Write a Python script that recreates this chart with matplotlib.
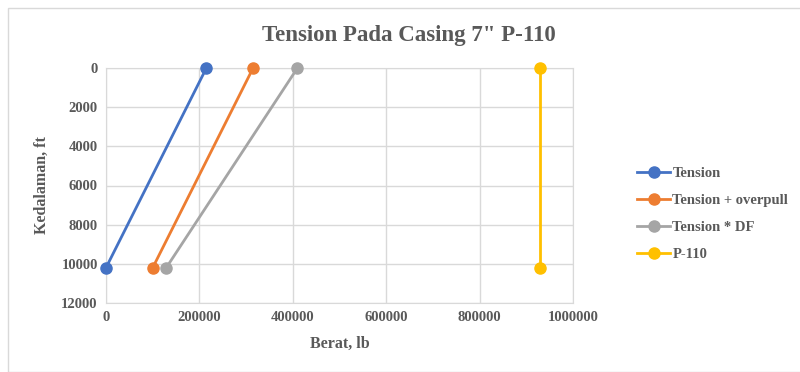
import matplotlib
matplotlib.use("Agg")
import matplotlib.pyplot as plt
from matplotlib.patches import Rectangle

series_names = ["Tension", "Tension + overpull", "Tension * DF", "P-110"]
depth = [0, 10200]
tension = [215000, 0]
tension_overpull = [315000, 100000]
tension_df = [410000, 129000]
p110 = [929000, 929000]
colors = ["#4472C4", "#ED7D31", "#A5A5A5", "#FFC000"]
x_ticks = [0, 200000, 400000, 600000, 800000, 1000000]
y_ticks = [0, 2000, 4000, 6000, 8000, 10000, 12000]

plt.rcParams['font.family'] = ['Liberation Serif', 'DejaVu Serif']
txt = "#595959"

fig = plt.figure(figsize=(8, 3.72), dpi=100)
fig.patches.append(Rectangle((8/800, 0), 1, 1 - 8/372, transform=fig.transFigure,
                             fill=False, edgecolor="#d9d9d9", lw=1))
ax = fig.add_axes([106/800, 1 - 303/372, (573-106)/800, (303-68)/372])

for name, vals, c in zip(series_names, [tension, tension_overpull, tension_df, p110], colors):
    ax.plot(vals, depth, color=c, lw=2, marker='o', ms=8, label=name, clip_on=False, zorder=3)

ax.set_xlim(0, 1000000)
ax.set_ylim(12000, 0)
ax.set_xticks(x_ticks)
ax.set_xticklabels([str(v) for v in x_ticks])
ax.set_yticks(y_ticks)
ax.set_yticklabels([str(v) for v in y_ticks])
ax.grid(True, color="#d9d9d9", lw=1)
ax.set_axisbelow(True)
for s in ax.spines.values():
    s.set_color("#d9d9d9")
ax.tick_params(length=0, labelsize=10.5, labelcolor=txt, pad=6)
for lab in ax.get_xticklabels() + ax.get_yticklabels():
    lab.set_fontweight('bold')

ax.set_xlabel("Berat, lb", fontsize=11.5, fontweight='bold', color=txt, labelpad=8)
ax.set_ylabel("Kedalaman, ft", fontsize=11.5, fontweight='bold', color=txt, labelpad=8)
fig.text(0.511, 1 - 35/372, "Tension Pada Casing 7\" P-110", ha='center', va='center',
         fontsize=16.5, fontweight='bold', color=txt)

leg = ax.legend(loc='center left', bbox_to_anchor=(1.11, 0.378), frameon=False,
                prop={'weight': 'bold', 'size': 10.5}, labelcolor=txt,
                handlelength=2.2, handletextpad=0.2, labelspacing=0.95)

fig.savefig("out.png", dpi=100)
